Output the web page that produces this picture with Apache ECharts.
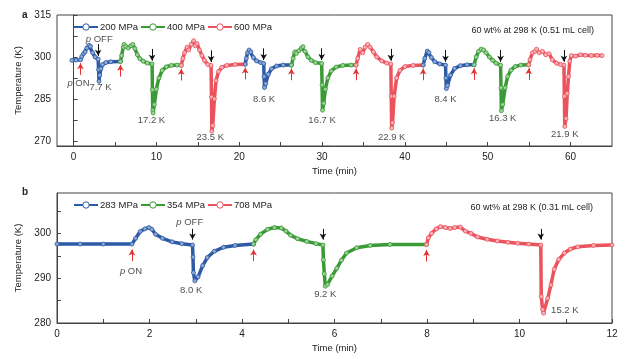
<!DOCTYPE html>
<html><head><meta charset="utf-8">
<script src="https://cdn.jsdelivr.net/npm/echarts@6/dist/echarts.min.js"></script>
<style>html,body{margin:0;padding:0;background:#fff}#c{width:629px;height:359px}</style>
</head><body><div id="c"></div>
<script>
// ---------- Panel a data (time in min, temperature in K) ----------
const aBlue1 = [[-0.2,298.8],[0.3,298.9],[0.84,299.0],[1.0,300.2],[1.2,301.2],[1.4,301.8],[1.6,303.2],[1.85,304.2],[2.05,303.8],[2.3,301.5],[2.6,300.0],[2.97,299.2],[3.02,295.5],[3.07,291.3],[3.15,293.5],[3.3,295.8],[3.5,297.3],[3.9,298.0],[4.5,298.3],[5.66,298.4]];
const aGreen1 = [[5.66,298.4],[5.8,300.5],[6.0,303.5],[6.1,304.5],[6.3,303.8],[6.6,303.2],[6.9,304.0],[7.15,304.5],[7.4,303.0],[7.7,300.8],[8.0,299.4],[8.4,298.5],[8.9,297.8],[9.48,297.5],[9.52,288.3],[9.56,281.0],[9.6,280.0],[9.75,283.0],[10.0,288.5],[10.3,292.5],[10.7,295.2],[11.2,296.5],[11.8,297.0],[12.5,297.1],[13.0,297.0]];
const aRed1 = [[13.0,297.0],[13.2,299.5],[13.4,301.5],[13.7,303.5],[13.9,302.5],[14.2,304.5],[14.5,305.8],[14.7,304.0],[14.9,304.8],[15.2,302.5],[15.5,300.5],[15.8,298.8],[16.2,297.3],[16.6,297.0],[16.65,285.7],[16.7,273.5],[16.8,275.5],[17.0,285.0],[17.2,291.5],[17.5,294.8],[17.9,296.3],[18.5,297.0],[19.5,297.3],[20.72,297.4]];
const aBlue2 = [[20.72,297.4],[20.85,299.5],[21.0,301.5],[21.2,302.5],[21.4,301.8],[21.7,299.8],[22.1,298.6],[22.6,298.0],[22.95,297.7],[23.0,293.0],[23.05,289.1],[23.2,290.5],[23.5,293.8],[23.9,295.8],[24.5,296.8],[25.3,297.1],[26.3,297.1]];
const aGreen2 = [[26.3,297.1],[26.5,299.5],[26.7,301.8],[26.9,301.3],[27.2,302.2],[27.5,303.2],[27.7,303.7],[27.95,302.0],[28.3,300.0],[28.7,298.8],[29.2,298.0],[29.95,297.7],[30.0,290.0],[30.05,281.0],[30.2,283.5],[30.4,288.5],[30.7,292.5],[31.1,295.0],[31.7,296.4],[32.5,297.0],[33.5,297.1],[34.1,297.1]];
const aRed2 = [[34.1,297.1],[34.3,299.5],[34.6,302.7],[34.9,301.5],[35.2,303.5],[35.5,304.5],[35.8,303.5],[36.2,301.8],[36.6,300.0],[37.2,298.6],[37.8,297.8],[38.3,297.5],[38.35,286.0],[38.4,274.6],[38.5,276.5],[38.7,286.0],[39.0,292.5],[39.4,295.2],[40.0,296.6],[41.0,297.0],[42.2,297.1]];
const aBlue3 = [[42.2,297.1],[42.4,299.5],[42.7,302.1],[42.9,301.6],[43.2,299.8],[43.6,298.3],[44.2,297.5],[44.9,297.1],[44.95,292.5],[45.0,288.7],[45.15,289.8],[45.5,293.5],[46.0,295.9],[46.7,296.9],[47.5,297.2],[48.35,297.2]];
const aGreen3 = [[48.35,297.2],[48.6,300.0],[48.9,302.0],[49.2,302.8],[49.5,302.5],[49.8,301.5],[50.2,300.0],[50.6,298.8],[51.0,297.8],[51.55,297.1],[51.6,289.0],[51.65,280.8],[51.8,283.0],[52.1,289.0],[52.4,293.0],[52.8,295.3],[53.3,296.6],[54.0,297.1],[54.95,297.2]];
const aRed3 = [[54.95,297.2],[55.1,299.0],[55.4,301.5],[55.7,302.0],[55.9,302.8],[56.2,301.5],[56.6,302.0],[57.0,300.8],[57.4,301.2],[57.8,299.0],[58.3,297.8],[58.8,297.3],[59.2,297.1],[59.25,286.0],[59.3,275.2],[59.45,278.0],[59.6,287.0],[59.75,293.0],[59.9,298.5],[60.1,300.5],[60.6,300.3],[61.2,300.8],[61.8,300.6],[62.5,300.5],[63.2,300.6],[63.8,300.5]];

// ---------- Panel b data ----------
const bBlue = [[0,297.6],[0.5,297.6],[1.0,297.6],[1.62,297.6],[1.7,298.9],[1.8,300.4],[1.9,301.0],[1.99,301.3],[2.05,300.9],[2.13,299.8],[2.28,298.9],[2.49,298.1],[2.7,297.7],[2.93,297.4],[2.94,294.7],[2.95,291.2],[2.98,289.4],[3.05,290.3],[3.15,292.8],[3.25,294.6],[3.4,296.0],[3.6,296.9],[3.85,297.3],[4.25,297.6]];
const bGreen = [[4.25,297.6],[4.3,298.6],[4.4,299.8],[4.55,300.9],[4.7,301.3],[4.85,301.2],[4.95,300.5],[5.05,299.6],[5.2,298.8],[5.4,298.2],[5.6,297.7],[5.75,297.4],[5.76,294.1],[5.78,291.0],[5.8,288.2],[5.85,288.6],[5.95,290.5],[6.05,292.2],[6.15,294.0],[6.26,295.6],[6.48,296.8],[6.77,297.3],[7.2,297.5],[7.99,297.5]];
const bRed = [[7.99,297.5],[8.03,299.0],[8.1,300.0],[8.2,301.0],[8.29,301.5],[8.4,301.3],[8.5,301.1],[8.6,301.3],[8.72,301.4],[8.83,300.5],[8.95,300.0],[9.09,299.2],[9.3,298.7],[9.52,298.3],[9.75,298.0],[9.96,297.8],[10.2,297.6],[10.46,297.4],[10.47,285.9],[10.5,283.0],[10.52,282.2],[10.61,285.5],[10.68,288.5],[10.75,292.0],[10.85,294.2],[10.97,295.6],[11.1,296.5],[11.26,297.0],[11.6,297.3],[12.0,297.4]];

// ---------- annotations ----------
const aOnTimes = [0.84,5.66,13.0,20.72,26.3,34.1,42.2,48.35,54.95];
const aOnBase = [299.0,298.4,297.0,297.4,297.1,297.1,297.1,297.2,297.2];
const aOffTimes = [2.97,9.48,16.6,22.95,29.95,38.3,44.9,51.55,59.2];
const aOffBase = [299.2,297.5,297.0,297.7,297.7,297.5,297.1,297.1,297.1];
const aLabels = [[3.25,289.0,'7.7 K'],[9.4,277.3,'17.2 K'],[16.5,271.2,'23.5 K'],[23.0,284.8,'8.6 K'],[30.0,277.3,'16.7 K'],[38.4,271.2,'22.9 K'],[44.9,284.8,'8.4 K'],[51.8,278.0,'16.3 K'],[59.3,272.3,'21.9 K'],[0.6,290.6,'{i|p} ON'],[3.1,306.4,'{i|p} OFF']];
const bOnTimes = [1.62,4.25,7.99];
const bOnBase = [297.6,297.6,297.5];
const bOffTimes = [2.93,5.75,10.46];
const bOffBase = [297.4,297.4,297.4];
const bLabels = [[1.6,291.6,'{i|p} ON'],[2.87,302.4,'{i|p} OFF'],[2.9,287.3,'8.0 K'],[5.8,286.4,'9.2 K'],[10.98,282.8,'15.2 K']];

const aXTicks = [0,5,10,15,20,25,30,35,40,45,50,55,60];
const aXLabels = [0,10,20,30,40,50,60];
const aYTicks = [270,277.5,285,292.5,300,307.5,315];
const aYLabels = [270,285,300,315];
const bXTicks = [0,1,2,3,4,5,6,7,8,9,10,11,12];
const bXLabels = [0,2,4,6,8,10,12];
const bYTicks = [280,285,290,295,300,305];
const bYLabels = [280,290,300];

const BLUE = '#2c5aa5', GREEN = '#3a9a36', RED = '#ec525c';
const TINT = { '#2c5aa5': '#8fa9d6', '#3a9a36': '#9fd19a', '#ec525c': '#f7b3b8' };
const FONT = 'Liberation Sans, Arial, sans-serif';
const TXT = '#222';

function mk(name, color, data, idx) {
  return {
    type: 'line', name, data, xAxisIndex: idx, yAxisIndex: idx,
    symbol: 'circle', symbolSize: 4, showAllSymbol: true,
    lineStyle: { color, width: 3.5 },
    itemStyle: { color: TINT[color], borderColor: color, borderWidth: 0.8 },
    animation: false, z: 3
  };
}
function arrows(idx, onT, onB, offT, offB, onLen, offLen) {
  const d = [];
  onT.forEach((t, i) => d.push([{ coord: [t, onB[i] - 1.2 - onLen], lineStyle: { color: '#e53030' } }, { coord: [t, onB[i] - 1.2] }]));
  offT.forEach((t, i) => d.push([{ coord: [t, offB[i] + 1.2 + offLen], lineStyle: { color: '#111' } }, { coord: [t, offB[i] + 1.2] }]));
  return {
    type: 'line', data: [], xAxisIndex: idx, yAxisIndex: idx, silent: true, animation: false,
    markLine: { symbol: ['none', 'arrow'], symbolSize: [5, 6], silent: true, animation: false,
      label: { show: false }, lineStyle: { type: 'solid', width: 1 }, data: d }
  };
}
function labels(idx, arr) {
  return {
    type: 'scatter', xAxisIndex: idx, yAxisIndex: idx, symbolSize: 0, silent: true, animation: false, z: 5,
    data: arr.map(a => ({ value: [a[0], a[1]], name: a[2] })),
    label: { show: true, position: 'inside', formatter: '{b}', color: TXT, fontSize: 9.5, fontFamily: FONT,
      rich: { i: { fontStyle: 'italic', fontSize: 9.5, color: TXT, fontFamily: FONT } } }
  };
}
function xAx(idx, min, max, ticks, labs) {
  return {
    type: 'value', gridIndex: idx, min, max, name: 'Time (min)', nameLocation: 'middle', nameGap: 20,
    nameTextStyle: { fontSize: 9.5, color: TXT, fontFamily: FONT },
    axisLine: { lineStyle: { color: '#444' } },
    axisTick: { inside: true, length: 4, customValues: ticks, lineStyle: { color: '#444' } },
    axisLabel: { customValues: labs, fontSize: 10, color: TXT, fontFamily: FONT, margin: 6 },
    splitLine: { show: false }
  };
}
function yAx(idx, min, max, ticks, labs) {
  return {
    type: 'value', gridIndex: idx, min, max, name: 'Temperature (K)', nameLocation: 'middle', nameGap: 23,
    nameTextStyle: { fontSize: 9.5, color: TXT, fontFamily: FONT },
    axisLine: { show: true, lineStyle: { color: '#444' } },
    axisTick: { show: true, inside: true, length: 4, customValues: ticks, lineStyle: { color: '#444' } },
    axisLabel: { customValues: labs, fontSize: 10, color: TXT, fontFamily: FONT, margin: 6 },
    splitLine: { show: false }
  };
}

const legendCommon = { orient: 'horizontal', itemWidth: 24, itemHeight: 8, itemGap: 2, padding: 0,
  itemStyle: { color: '#fff', borderWidth: 1 },
  textStyle: { fontSize: 9.5, color: TXT, fontFamily: FONT, padding: [0, 0, 0, -3] } };

const option = {
  backgroundColor: '#fff',
  animation: false,
  title: [
    { text: 'a', left: 17, top: 5, textStyle: { fontSize: 10, fontWeight: 'bold', color: TXT, fontFamily: FONT } },
    { text: 'b', left: 17, top: 182, textStyle: { fontSize: 10, fontWeight: 'bold', color: TXT, fontFamily: FONT } },
    { text: '60 wt% at 298 K (0.51 mL cell)', right: 30, top: 21, textStyle: { fontSize: 9, fontWeight: 'normal', color: TXT, fontFamily: FONT } },
    { text: '60 wt% at 298 K (0.31 mL cell)', right: 31, top: 198, textStyle: { fontSize: 9, fontWeight: 'normal', color: TXT, fontFamily: FONT } }
  ],
  legend: [
    Object.assign({ left: 73, top: 22, data: ['200 MPa', '400 MPa', '600 MPa'] }, legendCommon),
    Object.assign({ left: 73, top: 200, data: ['283 MPa', '354 MPa', '708 MPa'] }, legendCommon)
  ],
  grid: [
    { left: 57, right: 17, top: 15, height: 131, show: true, borderColor: '#444', borderWidth: 1, backgroundColor: 'transparent' },
    { left: 57, right: 17, top: 193, height: 130, show: true, borderColor: '#444', borderWidth: 1, backgroundColor: 'transparent' }
  ],
  xAxis: [xAx(0, -2, 65, aXTicks, aXLabels), xAx(1, 0, 12, bXTicks, bXLabels)],
  yAxis: [yAx(0, 268.2, 315, aYTicks, aYLabels), yAx(1, 280, 309, bYTicks, bYLabels)],
  series: [
    mk('200 MPa', BLUE, aBlue1, 0), mk('400 MPa', GREEN, aGreen1, 0), mk('600 MPa', RED, aRed1, 0),
    mk('200 MPa', BLUE, aBlue2, 0), mk('400 MPa', GREEN, aGreen2, 0), mk('600 MPa', RED, aRed2, 0),
    mk('200 MPa', BLUE, aBlue3, 0), mk('400 MPa', GREEN, aGreen3, 0), mk('600 MPa', RED, aRed3, 0),
    mk('283 MPa', BLUE, bBlue, 1), mk('354 MPa', GREEN, bGreen, 1), mk('708 MPa', RED, bRed, 1),
    arrows(0, aOnTimes, aOnBase, aOffTimes, aOffBase, 4.2, 4.2),
    arrows(1, bOnTimes, bOnBase, bOffTimes, bOffBase, 2.6, 2.4),
    labels(0, aLabels), labels(1, bLabels)
  ]
};
const chart = echarts.init(document.getElementById('c'), null, { renderer: 'canvas' });
chart.setOption(option);
</script></body></html>
